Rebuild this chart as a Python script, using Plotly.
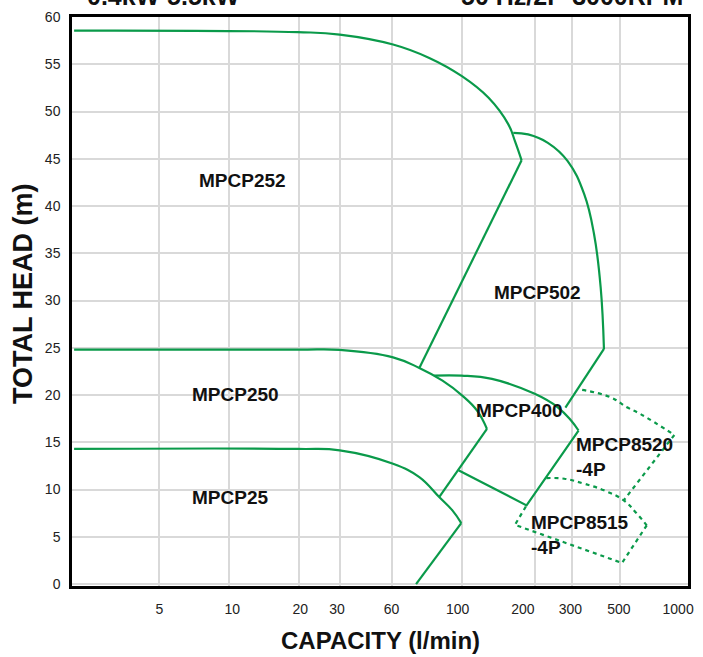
import math
import plotly.graph_objects as go

# ---------------- data (capacity l/min, head m) ----------------
X_TICK_TEXT = ["5", "10", "20", "30", "60", "100", "200", "300", "500", "1000"]
X_TICK_VALS = [5, 10.3, 20.2, 29.1, 49.9, 96.1, 183.7, 294, 475, 855]
X_GRID_VALS = [5, 10, 20, 30, 50.2, 100, 208, 300, 479]
Y_TICK_VALS = [0, 5, 10, 15, 20, 25, 30, 35, 40, 45, 50, 55, 60]

P252_CURVE_Q = [2.15, 19.7, 29.9, 50.7, 72.6, 100.3, 130.7, 159, 169.7, 181.3]
P252_CURVE_H = [58.56, 58.4, 58.14, 57.09, 55.67, 53.74, 51.45, 48.64, 46.87, 44.84]
P252_EDGE_Q = [181.3, 65.8]
P252_EDGE_H = [44.84, 22.87]

P502_CURVE_Q = [166.9, 193.4, 235.2, 286.2, 337.1, 371.7, 396.9, 410.0]
P502_CURVE_H = [47.75, 47.58, 46.69, 44.76, 41.25, 37.02, 31.38, 24.88]
P502_EDGE_Q = [410.0, 279.8]
P502_EDGE_H = [24.88, 18.68]

P250_CURVE_Q = [2.15, 19.7, 29.9, 50.7, 65.8, 82.8, 100.7, 116.6, 128.6]
P250_CURVE_H = [24.8, 24.8, 24.78, 23.99, 22.87, 21.53, 19.95, 18.36, 16.43]
P250_EDGE_Q = [128.6, 80.1]
P250_EDGE_H = [16.43, 9.21]

P25_CURVE_Q = [2.15, 19.7, 29.9, 50.7, 65.8, 80.1, 91.3, 99.7]
P25_CURVE_H = [14.3, 14.3, 14.15, 12.73, 11.32, 9.21, 7.80, 6.46]
P25_EDGE_Q = [99.7, 63.7]
P25_EDGE_H = [6.46, 0]

P400_CURVE_Q = [76.2, 100, 135.1, 206.5, 259.4, 296, 318.7]
P400_CURVE_H = [22.06, 22.06, 21.71, 20.13, 18.71, 17.31, 16.25]
P400_EDGE_Q = [318.7, 190.4, 97.4]
P400_EDGE_H = [16.25, 8.33, 12.03]

P8520_CURVE_Q = [330.4, 437.8, 515, 587.4, 823.6]
P8520_CURVE_H = [20.55, 19.77, 18.71, 18.01, 15.78]
P8520_EDGE_Q = [823.6, 498.7]
P8520_EDGE_H = [15.78, 8.86]

P8515_CURVE_Q = [231.6, 277, 337.1, 410, 498.7, 568.2, 626.6]
P8515_CURVE_H = [11.21, 11.15, 10.62, 9.92, 8.86, 7.45, 6.22]
P8515_EDGE_Q = [626.6, 490.4, 169.7, 190.4]
P8515_EDGE_H = [6.22, 2.24, 6.27, 8.33]

LABEL_TEXT = ["MPCP252", "MPCP502", "MPCP250", "MPCP25", "MPCP400",
              "MPCP8520<br>-4P", "MPCP8515<br>-4P"]
LABEL_Q = [11.36, 211.6, 10.6, 10.05, 178.3, 305.6, 194.7]
LABEL_H = [42.65, 30.82, 20.05, 9.18, 18.36, 13.5, 5.16]

TITLE_LEFT = "0.4kW-5.5kW"
TITLE_RIGHT = "50 Hz/2P-3000RPM"
X_TITLE = "CAPACITY (l/min)"
Y_TITLE = "TOTAL HEAD (m)"

# ---------------- styling ----------------
GREEN = "#0a9a4a"
LW = 2.2
REG = "Liberation Sans, Arial, sans-serif"
BOLD = "Liberation Sans, Arial, sans-serif"

fig = go.Figure()

solid = [
    (P252_CURVE_Q, P252_CURVE_H, P252_EDGE_Q, P252_EDGE_H),
    (P502_CURVE_Q, P502_CURVE_H, P502_EDGE_Q, P502_EDGE_H),
    (P250_CURVE_Q, P250_CURVE_H, P250_EDGE_Q, P250_EDGE_H),
    (P25_CURVE_Q, P25_CURVE_H, P25_EDGE_Q, P25_EDGE_H),
    (P400_CURVE_Q, P400_CURVE_H, P400_EDGE_Q, P400_EDGE_H),
]
dotted = [
    (P8520_CURVE_Q, P8520_CURVE_H, P8520_EDGE_Q, P8520_EDGE_H),
    (P8515_CURVE_Q, P8515_CURVE_H, P8515_EDGE_Q, P8515_EDGE_H),
]

for group, dash in ((solid, "solid"), (dotted, "4px,4px")):
    for cq, ch, eq, eh in group:
        fig.add_trace(go.Scatter(x=cq, y=ch, mode="lines",
                                 line=dict(color=GREEN, width=LW, shape="spline",
                                           smoothing=1.2, dash=dash),
                                 hoverinfo="skip", showlegend=False))
        fig.add_trace(go.Scatter(x=eq, y=eh, mode="lines",
                                 line=dict(color=GREEN, width=LW, dash=dash),
                                 hoverinfo="skip", showlegend=False))

annotations = []
for txt, q, h in zip(LABEL_TEXT, LABEL_Q, LABEL_H):
    multi = "<br>" in txt
    annotations.append(dict(
        x=math.log10(q), y=h, xref="x", yref="y", text="<b>%s</b>" % txt,
        showarrow=False, xanchor="left" if multi else "center", yanchor="middle",
        align="left", font=dict(family=BOLD, size=19, color="#111111")))

annotations += [
    dict(x=0.021, y=1.008, xref="paper", yref="paper", text="<b>%s</b>" % TITLE_LEFT,
         showarrow=False, xanchor="left", yanchor="bottom",
         font=dict(family=BOLD, size=25, color="#111111")),
    dict(x=0.6286, y=1.008, xref="paper", yref="paper", text="<b>%s</b>" % TITLE_RIGHT,
         showarrow=False, xanchor="left", yanchor="bottom",
         font=dict(family=BOLD, size=25, color="#111111")),
    dict(x=0.5, y=-0.0964, xref="paper", yref="paper", text="<b>%s</b>" % X_TITLE,
         showarrow=False, xanchor="center", yanchor="middle",
         font=dict(family=BOLD, size=24, color="#111111")),
    dict(x=-0.0804, y=0.514, xref="paper", yref="paper", text="<b>%s</b>" % Y_TITLE,
         showarrow=False, xanchor="center", yanchor="middle", textangle=-90,
         font=dict(family=BOLD, size=27, color="#111111")),
]

fig.update_layout(
    width=703, height=657,
    margin=dict(l=72, r=9, t=16, b=71),
    paper_bgcolor="white", plot_bgcolor="white",
    showlegend=False,
    annotations=annotations,
    xaxis=dict(type="log", range=[0.3234, 2.9745],
               tickmode="array", tickvals=X_TICK_VALS, ticktext=X_TICK_TEXT,
               showgrid=False, zeroline=False,
               ticks="outside", ticklen=8, tickcolor="rgba(0,0,0,0)",
               tickfont=dict(family=REG, size=14, color="#222222"),
               showline=True, linecolor="black", linewidth=2.5, mirror=True,
               minor=dict(tickmode="array", tickvals=X_GRID_VALS, showgrid=True,
                          gridcolor="#d9d9d9", gridwidth=1.5, ticks="")),
    yaxis=dict(range=[-0.2, 60.0], tickmode="array", tickvals=Y_TICK_VALS,
               showgrid=True, gridcolor="#d9d9d9", gridwidth=1.5, zeroline=False,
               ticks="outside", ticklen=6, tickcolor="rgba(0,0,0,0)",
               tickfont=dict(family=REG, size=14, color="#222222"),
               showline=True, linecolor="black", linewidth=2.5, mirror=True),
)

fig.write_html("out.html",
               config={"displayModeBar": False},
               post_script="document.body.style.margin='0';"
                           "document.body.style.overflow='hidden';")
